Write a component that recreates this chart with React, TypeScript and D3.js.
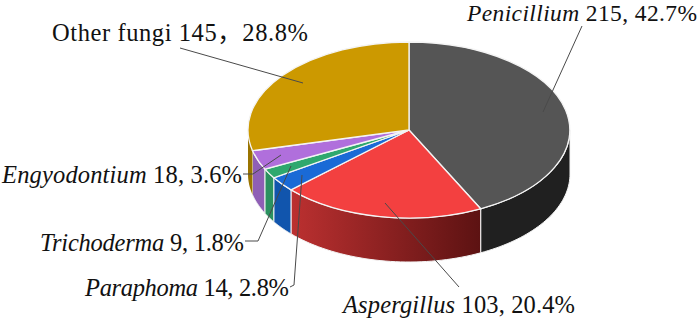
import * as d3 from "d3";
import { useEffect, useRef } from "react";

const categories = ["Penicillium", "Aspergillus", "Paraphoma", "Trichoderma", "Engyodontium", "Other fungi"];
const counts = [215, 103, 14, 9, 18, 145];
const percents = ["42.7%", "20.4%", "2.8%", "1.8%", "3.6%", "28.8%"];
const topColors = ["#555555", "#f34040", "#1a6ad6", "#2fa86e", "#b06fdc", "#cc9900"];
const sideColors = ["#202020", "url(#redSide)", "#1155ad", "#2b9160", "#8f5fb5", "#9a7400"];

// label placement, leaders run from the slice out to the text
const labelX = [467, 343, 85, 40, 2, 52];
const labelY = [21, 313, 296, 251, 183, 41];
const labelW = [230, 232, 204, 204, 240, 256];
const labelSize = [23.5, 24.5, 24.5, 24.5, 24.5, 24.5];
const leaders: [number, number][][] = [
  [[543, 112], [582, 26]],
  [[385, 203], [459, 287]],
  [[302, 175], [294, 285], [290, 287]],
  [[291, 166], [258, 241], [245, 241]],
  [[281, 155], [253, 174], [243, 174]],
  [[303, 83], [180, 48]],
];

const width = 699;
const height = 321;
const cx = 409;
const cy = 130;
const rx = 161;
const ry = 88;
const depth = 44;

function App() {
  const ref = useRef<SVGSVGElement>(null);

  useEffect(() => {
    const svg = d3.select(ref.current);
    svg.selectAll("*").remove();

    const grad = svg.append("defs").append("linearGradient")
      .attr("id", "redSide")
      .attr("gradientUnits", "userSpaceOnUse")
      .attr("x1", 292).attr("x2", 481).attr("y1", 0).attr("y2", 0);
    grad.append("stop").attr("offset", "0%").attr("stop-color", "#bb3030");
    grad.append("stop").attr("offset", "100%").attr("stop-color", "#5c1212");

    const pie = d3.pie<number>().sort(null)(counts);
    const arc = d3.arc<d3.PieArcDatum<number>>().innerRadius(0).outerRadius(1);
    const px = (a: number) => cx + rx * Math.sin(a);
    const py = (a: number) => cy - ry * Math.cos(a);

    // front wall only exists between 90 and 270 degrees
    const wall = (d: d3.PieArcDatum<number>) => {
      const a0 = Math.max(d.startAngle, Math.PI / 2);
      const a1 = Math.min(d.endAngle, (3 * Math.PI) / 2);
      if (a1 <= a0) return null;
      const angles = d3.range(0, 41).map(i => a0 + ((a1 - a0) * i) / 40);
      const top = angles.map(a => [px(a), py(a)] as [number, number]);
      const bottom = angles.slice().reverse().map(a => [px(a), py(a) + depth] as [number, number]);
      return d3.line()([...top, ...bottom]) + "Z";
    };

    svg.append("g").selectAll("path")
      .data(pie)
      .enter()
      .append("path")
      .attr("d", d => wall(d))
      .attr("fill", (d, i) => sideColors[i])
      .attr("stroke", (d, i) => (i === 5 ? "none" : "#f4f4f4"))
      .attr("stroke-width", 1);

    svg.append("g")
      .attr("transform", `translate(${cx},${cy}) scale(${rx},${ry})`)
      .selectAll("path")
      .data(pie)
      .enter()
      .append("path")
      .attr("d", d => arc(d))
      .attr("fill", (d, i) => topColors[i])
      .attr("stroke", "#f4f4f4")
      .attr("stroke-width", 1.3)
      .attr("vector-effect", "non-scaling-stroke");

    svg.append("g").selectAll("path")
      .data(leaders)
      .enter()
      .append("path")
      .attr("d", d => d3.line()(d))
      .attr("fill", "none")
      .attr("stroke", "#4a4a4a")
      .attr("stroke-width", 1);

    const labels = svg.append("g").selectAll("text")
      .data(categories)
      .enter()
      .append("text")
      .attr("x", (d, i) => labelX[i])
      .attr("y", (d, i) => labelY[i])
      .attr("textLength", (d, i) => labelW[i])
      .attr("lengthAdjust", "spacing")
      .attr("font-family", "'Liberation Serif', serif")
      .attr("font-size", (d, i) => labelSize[i])
      .attr("fill", "#111111");
    labels.append("tspan")
      .attr("font-style", (d, i) => (i === 5 ? "normal" : "italic"))
      .text(d => d);
    labels.append("tspan")
      .text((d, i) => ` ${counts[i]}${i === 5 ? "" : ", " + percents[i]}`);
    // the one label with a full-width comma
    labels.filter((d, i) => i === 5).append("tspan")
      .attr("font-family", "'Noto Sans CJK SC'")
      .text("，");
    labels.filter((d, i) => i === 5).append("tspan")
      .text(percents[5]);
  }, []);

  return (
    <svg
      ref={ref}
      width={width}
      height={height}
      style={{ position: "absolute", left: 0, top: 0, background: "#ffffff" }}
    />
  );
}

export default App;
